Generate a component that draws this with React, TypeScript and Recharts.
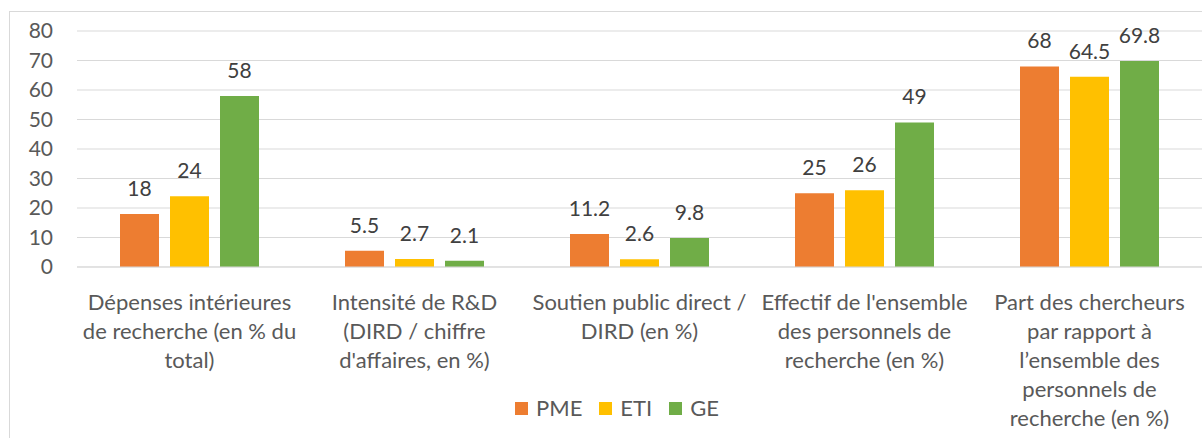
import React from "react";
import {
  BarChart,
  Bar,
  XAxis,
  YAxis,
  CartesianGrid,
  Legend,
  LabelList,
} from "recharts";

const categories = [
  "Dépenses intérieures\nde recherche (en % du\ntotal)",
  "Intensité de R&D\n(DIRD / chiffre\nd'affaires, en %)",
  "Soutien public direct /\nDIRD (en %)",
  "Effectif de l'ensemble\ndes personnels de\nrecherche (en %)",
  "Part des chercheurs\npar rapport à\nl’ensemble des\npersonnels de\nrecherche (en %)",
];
const pme = [18, 5.5, 11.2, 25, 68];
const eti = [24, 2.7, 2.6, 26, 64.5];
const ge = [58, 2.1, 9.8, 49, 69.8];
const yTicks = [0, 10, 20, 30, 40, 50, 60, 70, 80];

const seriesList = [
  { key: "pme", name: "PME", color: "#ED7D31" },
  { key: "eti", name: "ETI", color: "#FFC000" },
  { key: "ge", name: "GE", color: "#70AD47" },
];

const data = categories.map((c, i) => ({
  category: c,
  pme: pme[i],
  eti: eti[i],
  ge: ge[i],
}));

const FONT = "Lato, 'Open Sans', sans-serif";
const TEXT = "#595959";

function CategoryTick(props: any) {
  const { x, y, payload } = props;
  const lines: string[] = String(payload.value).split("\n");
  return (
    <g>
      {lines.map((line, i) => (
        <text
          key={i}
          x={x}
          y={y + 34 + i * 29}
          textAnchor="middle"
          dominantBaseline="central"
          fill={TEXT}
          fontSize={22}
          fontFamily={FONT}
        >
          {line}
        </text>
      ))}
    </g>
  );
}

function LegendContent() {
  return (
    <div
      style={{
        display: "flex",
        justifyContent: "center",
        alignItems: "center",
        gap: 17,
        fontFamily: FONT,
        fontSize: 22,
        lineHeight: "26px",
        color: TEXT,
      }}
    >
      {seriesList.map((s) => (
        <div key={s.key} style={{ display: "flex", alignItems: "center", gap: 8 }}>
          <div style={{ width: 13, height: 13, background: s.color }} />
          <span>{s.name}</span>
        </div>
      ))}
    </div>
  );
}

export default function App() {
  return (
    <div
      style={{
        position: "absolute",
        left: 0,
        top: 0,
        width: 1202,
        height: 438,
        overflow: "hidden",
        background: "#fff",
      }}
    >
      <div
        style={{
          position: "absolute",
          left: 9,
          top: 11,
          width: 1220,
          height: 460,
          border: "1px solid #d9d9d9",
        }}
      />
      <div style={{ position: "absolute", left: 0, top: 0 }}>
        <BarChart
          width={1202}
          height={438}
          data={data}
          margin={{ top: 31, right: 0, left: 0, bottom: 21 }}
          barSize={39}
          barGap={11}
        >
          <CartesianGrid stroke="#d9d9d9" vertical={false} />
          <XAxis
            dataKey="category"
            height={150}
            interval={0}
            tickLine={false}
            tickSize={0}
            tickMargin={0}
            axisLine={{ stroke: "#d9d9d9" }}
            tick={<CategoryTick />}
          />
          <YAxis
            width={77}
            domain={[0, 80]}
            ticks={yTicks}
            interval={0}
            axisLine={false}
            tickLine={false}
            tickSize={0}
            tickMargin={24}
            tick={{ fill: TEXT, fontSize: 21, fontFamily: FONT }}
          />
          <Legend
            layout="horizontal"
            verticalAlign="middle"
            align="center"
            content={<LegendContent />}
            wrapperStyle={{ top: 395, left: 32, width: 1170 }}
          />
          {seriesList.map((s) => (
            <Bar
              key={s.key}
              dataKey={s.key}
              name={s.name}
              fill={s.color}
              isAnimationActive={false}
            >
              <LabelList
                dataKey={s.key}
                position="top"
                offset={18}
                fill="#404040"
                fontSize={21}
                fontFamily={FONT}
              />
            </Bar>
          ))}
        </BarChart>
      </div>
    </div>
  );
}
